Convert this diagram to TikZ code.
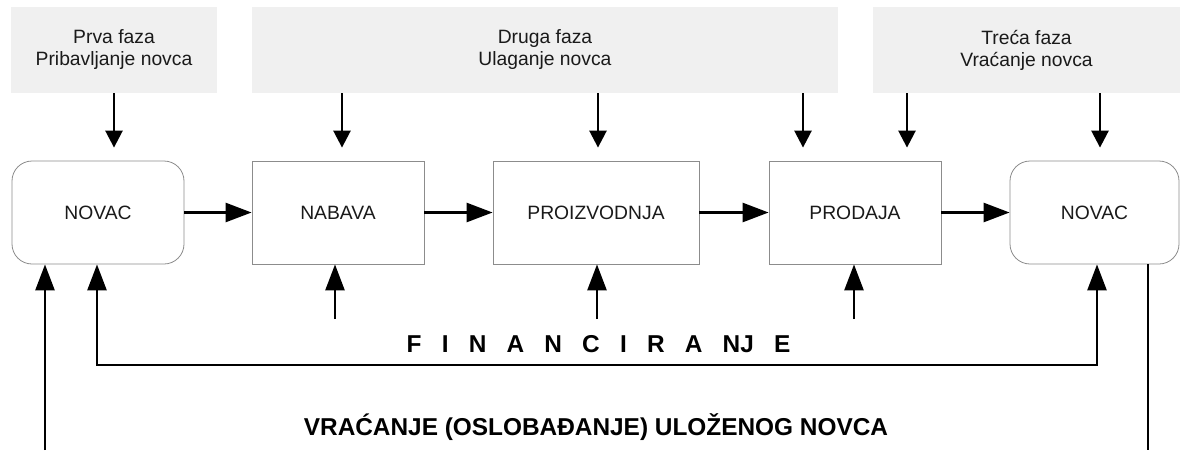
\documentclass[tikz,border=0pt]{standalone}
\usepackage{fontspec}
\setmainfont{Liberation Sans}
\usetikzlibrary{arrows.meta,calc}
\definecolor{phasegray}{HTML}{F0F0F0}
\definecolor{boxgray}{HTML}{8C8C8C}
\definecolor{textc}{HTML}{1A1A1A}
\newcommand\finsep{\hspace{20.2pt}}
\begin{document}
\begin{tikzpicture}[x=1pt,y=-1pt,
  phase/.style={fill=phasegray, draw=none, inner sep=0pt, align=center,
    minimum height=86pt, font=\fontsize{19.3}{22}\selectfont, text=textc},
  stage/.style={draw=boxgray, line width=0.8pt, fill=white, inner sep=0pt,
    minimum height=103pt, font=\fontsize{19.3}{22}\selectfont, text=textc},
  money/.style={stage, rounded corners=20pt},
  flow/.style={line width=2.6pt, -{Triangle[length=26pt,width=19pt]}},
  feed/.style={line width=2.6pt, -{Triangle[length=17pt,width=17pt]}, shorten >=13pt},
  plainline/.style={line width=2.6pt},
  bigtext/.style={font=\bfseries\fontsize{24.4}{26}\selectfont, anchor=base, inner sep=0pt}
]
\useasboundingbox (0,0) rectangle (1180,450);

% phase boxes
\node[phase, minimum width=206pt] (ph1) at (114,50) {Prva faza\\Pribavljanje novca};
\node[phase, minimum width=586pt] (ph2) at (545,50) {Druga faza\\Ulaganje novca};
\node[phase, minimum width=307pt] (ph3) at (1026.5,50) {Treća faza\\Vraćanje novca};

% stage boxes
\node[money, minimum width=172pt] (nov1) at (98,212.5) {NOVAC};
\node[stage, minimum width=172pt] (nab) at (338,212.5) {NABAVA};
\node[stage, minimum width=206pt] (pro) at (596,212.5) {PROIZVODNJA};
\node[stage, minimum width=172pt] (prod) at (855,212.5) {PRODAJA};
\node[money, minimum width=169pt] (nov2) at (1094.5,212.5) {NOVAC};

% horizontal flow
\draw[flow] (nov1.east) -- (nab.west);
\draw[flow] (nab.east) -- (pro.west);
\draw[flow] (pro.east) -- (prod.west);
\draw[flow] (prod.east) -- (nov2.west);

% down arrows from phases
\coordinate (d1) at (114,0);
\coordinate (d2) at (342,0);
\coordinate (d3) at (598,0);
\coordinate (d4) at (803,0);
\coordinate (d5) at (907,0);
\coordinate (d6) at (1100,0);
\draw[feed] (ph1.south -| d1) -- (nov1.north -| d1);
\draw[feed] (ph2.south -| d2) -- (nab.north -| d2);
\draw[feed] (ph2.south -| d3) -- (pro.north -| d3);
\draw[feed] (ph2.south -| d4) -- (prod.north -| d4);
\draw[feed] (ph3.south -| d5) -- (prod.north -| d5);
\draw[feed] (ph3.south -| d6) -- (nov2.north -| d6);

% up arrows (financing)
\coordinate (u1) at (335,319);
\coordinate (u2) at (597,319);
\coordinate (u3) at (854,319);
\draw[flow] (u1) -- (u1 |- nab.south);
\draw[flow] (u2) -- (u2 |- pro.south);
\draw[flow] (u3) -- (u3 |- prod.south);

% financing loop
\coordinate (fl) at (97,365);
\coordinate (fr) at (1097,365);
\draw[line width=2.6pt, {Triangle[length=26pt,width=19pt]}-{Triangle[length=26pt,width=19pt]}]
  (fl |- nov1.south) -- (fl) -- (fr) -- (fr |- nov2.south);

% return loop
\coordinate (rl) at (45,450);
\coordinate (rr) at (1148,450);
\draw[flow] (rl) -- (rl |- nov1.south);
\draw[plainline] (rr |- nov2.south) -- (rr);

% labels
\node[bigtext] (fin) at (598.5,352) {F\finsep I\finsep N\finsep A\finsep N\finsep C\finsep I\finsep R\finsep A\finsep NJ\finsep E};
\node[bigtext] (ret) at (596,435) {VRAĆANJE (OSLOBAĐANJE) ULOŽENOG NOVCA};
\end{tikzpicture}
\end{document}
